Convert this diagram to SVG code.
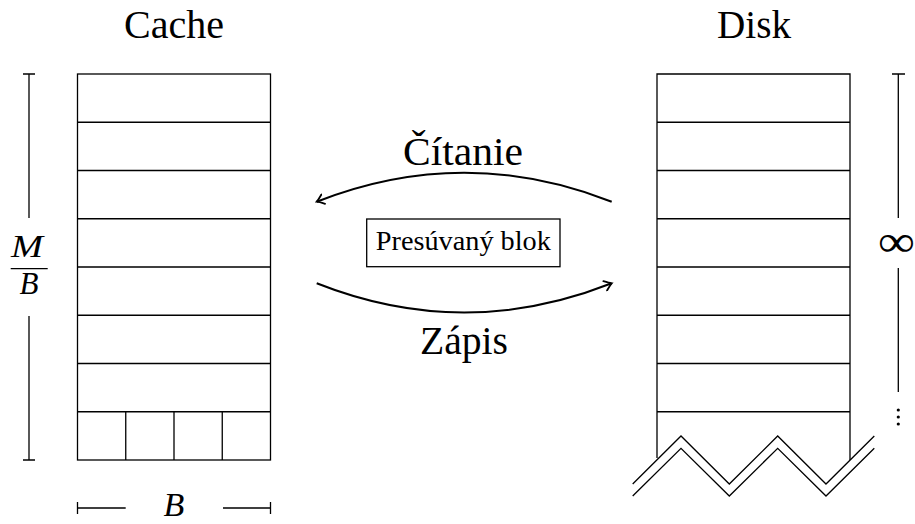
<svg xmlns="http://www.w3.org/2000/svg" width="915" height="524" viewBox="0 0 915 524">
<defs>
<style>
.ln{stroke:#000;stroke-width:1.3;fill:none}
.arr{stroke:#000;stroke-width:2;fill:none}
text{fill:#000;font-family:"Liberation Serif","Times New Roman",serif}
.it{font-style:italic}
</style>
<marker id="ah" viewBox="-8 -6 10 12" markerWidth="10" markerHeight="12" refX="0" refY="0" orient="auto" markerUnits="userSpaceOnUse">
<path d="M-7,-5 Q-2,-1 0,0 Q-2,1 -7,5" fill="none" stroke="#000" stroke-width="1.8" stroke-linecap="round"/>
</marker>
</defs>
<rect width="915" height="524" fill="#fff"/>

<g id="cache">
<text x="174" y="38" font-size="40" text-anchor="middle" textLength="100" lengthAdjust="spacingAndGlyphs">Cache</text>
<rect class="ln" x="77.5" y="74" width="193" height="386"/>
<path class="ln" d="M77.5,122.25H270.5M77.5,170.5H270.5M77.5,218.75H270.5M77.5,267H270.5M77.5,315.25H270.5M77.5,363.5H270.5M77.5,411.75H270.5M125.75,411.75V460M174,411.75V460M222.25,411.75V460"/>
</g>

<g id="disk">
<text x="754" y="38" font-size="40" text-anchor="middle" textLength="74" lengthAdjust="spacingAndGlyphs">Disk</text>
<path class="ln" d="M657,458V74H850V460M657,122.25H850M657,170.5H850M657,218.75H850M657,267H850M657,315.25H850M657,363.5H850M657,411.75H850"/>
<polyline class="ln" points="632.7,496 681,448.3 729.3,496 777.7,448.3 826,496 874.3,448.3"/>
<polyline class="ln" points="632.7,484 681,436 729.3,484 777.7,436 826,484 874.3,436"/>
</g>

<g id="dim-m-b">
<path class="ln" d="M23,74H35M29,74V218M29,316V460M23,460H35"/>
<text class="it" x="27" y="257" font-size="31" text-anchor="middle" textLength="32" lengthAdjust="spacingAndGlyphs">M</text>
<path class="ln" d="M10.7,268.7H47.7"/>
<text class="it" x="29" y="294" font-size="31" text-anchor="middle">B</text>
</g>

<g id="dim-b">
<path class="ln" d="M77.5,502V514M77.5,508H125.7M223,508H270.5M270.5,502V514"/>
<text class="it" x="174" y="516" font-size="34" text-anchor="middle">B</text>
</g>

<g id="dim-inf">
<path class="ln" d="M892,74H905M898.3,74V218M898.3,268V392"/>
<text x="896.5" y="256" font-size="44" text-anchor="middle" textLength="37" lengthAdjust="spacingAndGlyphs">∞</text>
<circle cx="898.3" cy="410" r="1.6"/>
<circle cx="898.3" cy="417" r="1.6"/>
<circle cx="898.3" cy="424" r="1.6"/>
</g>

<g id="moved-block">
<rect class="ln" x="366.7" y="219" width="193.3" height="47.7"/>
<text x="463.3" y="250" font-size="27" text-anchor="middle" textLength="175" lengthAdjust="spacingAndGlyphs">Presúvaný blok</text>
</g>

<g id="connectors">
<path class="arr" d="M611.7,201.7 Q464,143.7 316.7,201.7" marker-end="url(#ah)"/>
<path class="arr" d="M316.7,283.3 Q464,341.7 611.7,283.3" marker-end="url(#ah)"/>
<text x="463" y="165" font-size="40" text-anchor="middle" textLength="120" lengthAdjust="spacingAndGlyphs">Čítanie</text>
<text x="464" y="354" font-size="40" text-anchor="middle" textLength="88" lengthAdjust="spacingAndGlyphs">Zápis</text>
</g>
</svg>
